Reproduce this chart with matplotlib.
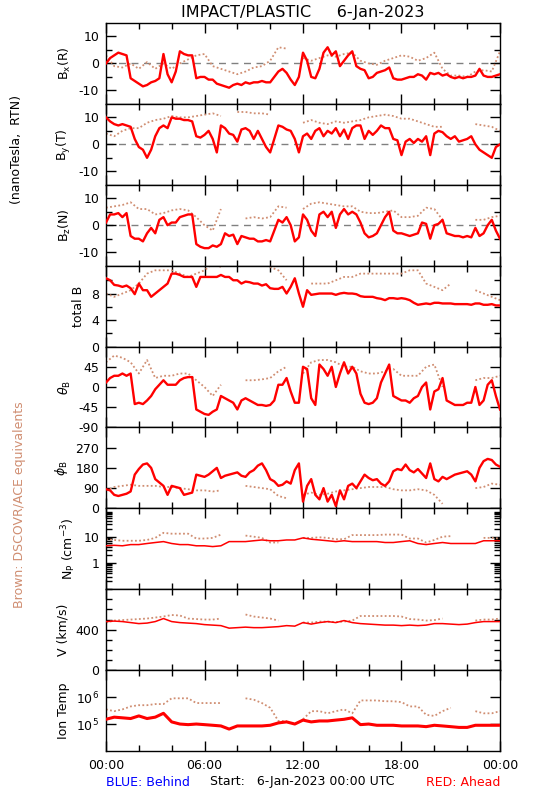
import numpy as np
import matplotlib
matplotlib.use("Agg")
import matplotlib.pyplot as plt
from matplotlib.ticker import MultipleLocator, FixedLocator, NullFormatter, NullLocator, LogLocator

nan = np.nan

# red (STEREO Ahead) every 15 min, brown (DSCOVR/ACE) every 30 min
t_red = np.arange(97) * 0.25
t_brn = np.arange(49) * 0.5
t_red30 = np.arange(49) * 0.5

bx_red = [0, 2, 3, 4, 3.5, 3, -5.5, -6.5,
          -7.5, -8.5, -8, -7, -6.5, -5.5, 3.5, -4,
          -7, -3, 4.5, 3.5, 3, 3, -5.5, -5,
          -5, -6, -6, -7.5, -8, -8.5, -9, -8,
          -7.5, -8, -7, -7.5, -7, -7, -6.5, -7,
          -7, -5, -3, -2, -3.5, -6, -8, -5,
          4, 1, -5, -5.5, -2, 4, 6, 3,
          4.5, -1, 1, 3, 4.5, -1, -2, -2.5,
          -5.5, -5, -3.5, -3, -2.5, -1.5, -5.5, -6,
          -6, -5.5, -5, -5, -4, -4.5, -6, -3.5,
          -4, -3.5, -4.5, -4, -5, -5.5, -5, -5.5,
          -5, -5, -4.5, -2, -4.5, -5, -5, -4.5,
          -4]
bx_brn = [3, -1, -1.5, 0, -2, 0.5, -2, 0, -2, 0, 1.5, 3, 3.5, -1, -2, -3,
          -4, -3, -1.5, -1, 1, 6, 5.5, nan, 2, 1, 2, 3, 2.5, 3.5, 4, 1,
          0, -0.5, 1, 2, 3, 2.5, 1, 2, 4, -2, -4.5, -4.5, -5, -3, -2.5, -3,
          4.5]

by_red = [10, 8.5, 7.5, 7, 7.5, 7, 6.5, 2,
          -1, -2, -5, -2, 3, 6, 7, 6,
          10, 9.5, 9.5, 9, 9, 8.5, 3, 2.5,
          3.5, 5, 2, -3, 7, 6, 4, 3.5,
          1, 5.5, 6, 5, 2, 5, 2, -1,
          -3, 2, 7, 6.5, 5.5, 5, 2, -3,
          3, 4, 2, 5, 6, 3, 5, 4,
          6, 3, 5.5, 2, 6, 7, 7, 2,
          5, 3.5, 5, 7, 6, 6, 2, 1.5,
          -4, 1, 2, 0.5, 2, 1, 3, -4,
          4, 5, 4.5, 3, 2, 3, 1, 1.5,
          2, 3, 0, -2, -3, -4, -5, -1,
          0]
by_brn = [4, 3, 5, 6, 6, 8, 9, 9.5, 10.5, 10, 10, 10.5, 11, 11.5, 10.5, nan,
          12, 12, 11.5, 11.5, 11, nan, nan, nan, 8, 9, 8, 7.5, 8.5, 8, 8.5, 9,
          10, 10.5, 11, 10.5, 9.5, 9.5, 8.5, 7.5, 6.5, 6.5, nan, nan, nan, 7.5, 7, 6.5,
          5]

bz_red = [1, 4, 4, 4.5, 3, 4.5, -4, -5,
          -5, -6, -3, -1, -3, 2, 3, 0,
          1, 1, 3, 3.5, 4, 4, -7, -8,
          -8.5, -8.5, -7.5, -8, -7, -3, -4, -3.5,
          -7, -4, -4.5, -5, -5, -6, -6, -5.5,
          -6, -2, 2, 1, 3, 0, -6, -4.5,
          4, 2, -2, -4, 4, 5, 3, 5,
          -1, 4, 6, 4, 5, 4, 1, -3,
          -4.5, -4, -3, 0, 3, 5, -2, -3,
          -3, -3.5, -4, -3.5, -3, 1, 0.5, -5,
          0, 0.5, 2, -3, -3.5, -4, -4, -4.5,
          -4, -4.5, -1, -4, -3, 0, 2, -2,
          -5]
bz_brn = [6.5, 7, 7.5, 8.5, 6, 6, 4, 4.5, 5.5, 6, 5.5, 3, 0, -2, 6, nan,
          nan, 2.5, 3, 2.5, 3, 7, 6.5, nan, 6, 8, 8.5, 8, 7.5, 7, 7, 5,
          4.5, 4.5, 5, 5.5, 3, 3, 3.5, 6.5, 6, 2, nan, nan, nan, 2, 2, 3,
          3.5]

bt_red = [10.3, 10, 9.3, 9.2, 9, 9.2, 8.8, 7.9,
          9.5, 8.5, 8.5, 7.5, 8, 8.5, 9, 9.5,
          11, 11, 10.8, 10.5, 10.5, 10.5, 9, 10.5,
          10.5, 10.5, 10.5, 10.5, 10.8, 10.5, 10.5, 10,
          10, 9.5, 9.8, 9.7, 9.5, 9.5, 9.2, 9.4,
          8.8, 8.7, 8.7, 9, 8, 9, 10.3, 8,
          6, 8.5, 7.8, 7.9, 8, 8, 8, 8,
          7.8, 8, 8.1, 8, 8, 7.9, 7.6, 7.5,
          7.5, 7.5, 7.3, 7.2, 7, 7.3, 7.3, 7.2,
          7.3, 7.2, 7, 6.6, 6.3, 6.4, 6.5, 6.4,
          6.6, 6.6, 6.5, 6.5, 6.5, 6.4, 6.4, 6.4,
          6.4, 6.3, 6.5, 6.5, 6.3, 6.3, 6.4, 6.2,
          6.2]
bt_brn = [8, 7.5, 8, 8.5, 9.5, 11, 11.5, 11.5, 11.5, 11, 10.5, 11, 11.5, 12.5, 12, nan,
          nan, 12.5, 12.5, 12.5, 12, 11.5, 10, nan, nan, 9.5, 9.5, 9.5, 10, 10.5, 10.5, 11,
          11, 11, 11, 11, 11, 11.5, 11.5, 9.5, 9, 8.5, 9.5, nan, nan, 8.5, 8, 7.5,
          7]

th_red = [10, 20, 25, 25, 30, 25, 30, -38,
          -35, -38, -30, -20, -5, 5, 15, 5,
          5, 5, 15, 20, 22, 22, -50, -55,
          -60, -62, -55, -50, -20, -25, -30, -35,
          -50, -30, -25, -30, -35, -40, -40, -42,
          -40, -30, 5, 5, 20, -10, -35, -35,
          45, 40, -25, -40, 50, 40, 25, 45,
          0, 30, 55, 30, 45, 30, -15, -35,
          -38, -35, -25, 10, 30, 50, -20, -25,
          -30, -30, -35, -25, -20, 0, 10, -50,
          -10, -5, 20, -30, -35, -40, -40, -40,
          -35, -35, 0, -40, -30, 5, 15, -20,
          -50]
th_brn = [55, 70, 65, 55, 30, 60, 20, 25, 25, 30, 30, 15, 0, -20, 5, nan,
          nan, 15, 15, 17, 20, 35, 45, nan, 30, 55, 60, 60, 55, 45, 45, 35,
          30, 30, 35, 40, 25, 25, 25, 45, 50, 0, nan, nan, nan, 15, 20, 20,
          25]

ph_red = [85, 80, 60, 55, 60, 65, 75, 150,
          175, 195, 200, 180, 130, 115, 100, 60,
          100, 95, 90, 60, 65, 70, 150, 145,
          140, 150, 165, 180, 135, 145, 150, 155,
          160, 145, 140, 160, 170, 190, 200, 170,
          130, 120, 100, 105, 120, 110, 170, 200,
          30, 100, 130, 60, 40, 90, 30, 60,
          10, 80, 40, 100, 110, 90, 120, 150,
          135, 125, 130, 110, 100, 120, 165, 175,
          170, 195, 170, 160, 175, 155, 135, 200,
          130, 120, 140, 130, 140, 150, 155, 160,
          165, 150, 120, 180, 210, 220, 215, 195,
          185]
ph_brn = [80, 95, 100, 105, 100, 100, 100, 95, 95, 90, 85, 80, 80, 75, 80, nan,
          nan, 100, 95, 90, 85, 55, 45, nan, 60, 70, 60, 65, 75, 80, 85, 90,
          95, 95, 95, 85, 80, 80, 85, 80, 60, 20, nan, nan, nan, 90, 95, 110,
          105]

np_red = [4.5, 4.7, 4.5, 5, 5, 5.5, 6, 6.5, 5.5, 5, 5, 4.5, 4.5, 4.2, 4.5, 6.5,
          6.5, 6.5, 7, 7.5, 7, 7, 7.5, 7.5, 9, 8, 7.5, 7, 6.5, 7, 6.5, 6.5,
          6.5, 6.5, 6, 6, 6.5, 7, 5.5, 5, 5.5, 6, 5.5, 5.5, 5.5, 5.5, 7, 7,
          7]
np_brn = [8, 7.5, 7, 7, 7, 7.5, 9, 14, 13, 13, 13, 8.5, 8.5, 9, 12, nan,
          nan, 11, 10, 9, 6, 6, nan, nan, 9, 9, 9.5, 9, 8, 8, 11.5, 11.5,
          11.5, 11.5, 12, 12, 12, 8.5, 8.5, 6, 7.5, 10, 10.5, nan, nan, nan, 9, 9,
          8.5]

v_red = [480, 485, 480, 470, 460, 465, 480, 510, 480, 470, 465, 460, 450, 445, 440, 415,
         420, 425, 420, 420, 425, 430, 440, 435, 470, 455, 470, 480, 470, 490, 470, 460,
         455, 450, 445, 445, 440, 445, 440, 445, 460, 460, 455, 450, 455, 470, 480, 480,
         480]
v_brn = [470, 490, 495, 500, 505, 510, 520, 530, 545, 540, 510, 505, 500, 500, 510, nan,
         nan, 550, 530, 520, 510, 490, nan, nan, 470, 470, 480, 480, 475, 480, 490, 535,
         535, 535, 535, 535, 530, 505, 500, 490, 495, 510, nan, nan, nan, 490, 500, 500,
         510]

tp_red = [1.5e5, 1.8e5, 1.7e5, 1.6e5, 2e5, 1.6e5, 1.8e5, 2.5e5, 1.2e5, 1.0e5, 0.95e5, 1.0e5,
          0.95e5, 0.9e5, 0.85e5, 0.65e5, 0.85e5, 0.85e5, 0.85e5, 0.85e5, 0.9e5, 1.1e5, 1.2e5, 1.0e5,
          1.4e5, 1.2e5, 1.3e5, 1.3e5, 1.4e5, 1.5e5, 1.7e5, 0.95e5, 1.0e5, 0.9e5, 0.9e5, 0.9e5,
          0.85e5, 0.85e5, 0.85e5, 0.8e5, 0.9e5, 0.85e5, 0.8e5, 0.75e5, 0.75e5, 0.9e5, 0.9e5, 0.9e5,
          0.9e5]
tp_brn = [3.5e5, 3e5, 3.5e5, 4.5e5, 5e5, 5e5, 5.5e5, 5.5e5, 9e5, 9e5, 9e5, 6e5,
          6e5, 6e5, 6e5, nan, nan, 9e5, 8e5, 6e5, 4e5, 1.3e5, 1.3e5, nan,
          1.5e5, 3e5, 3e5, 2.5e5, 3e5, 3.5e5, 2.5e5, 7.5e5, 7.5e5, 7.5e5, 7e5, 7e5,
          6.5e5, 4.5e5, 4.5e5, 2.2e5, 2e5, 3e5, 4e5, nan, nan, 3e5, 2.5e5, 2.5e5,
          3e5]

BROWN = "#D08E72"
plt.rcParams["font.family"] = "DejaVu Sans"
plt.rcParams["font.size"] = 9
plt.rcParams["axes.unicode_minus"] = False

fig, axes = plt.subplots(9, 1, figsize=(5.5, 8), dpi=100, sharex=True,
                         gridspec_kw=dict(hspace=0))
fig.subplots_adjust(left=106/550, right=500/550, top=1-23/800, bottom=1-751/800)

panels = [
    (bx_red, t_red, bx_brn, 'B$_{\\rm x}$(R)'),
    (by_red, t_red, by_brn, 'B$_{\\rm y}$(T)'),
    (bz_red, t_red, bz_brn, 'B$_{\\rm z}$(N)'),
    (bt_red, t_red, bt_brn, 'total B'),
    (th_red, t_red, th_brn, r'$\theta_{\rm B}$'),
    (ph_red, t_red, ph_brn, r'$\phi_{\rm B}$'),
    (np_red, t_red30, np_brn, 'N$_{\\rm P}$ (cm$^{-3}$)'),
    (v_red, t_red30, v_brn, 'V (km/s)'),
    (tp_red, t_red30, tp_brn, 'Ion Temp'),
]
red_lw = [1.7, 1.7, 1.7, 1.7, 1.7, 1.7, 1.1, 1.1, 2.2]

for i, (ax, (red, tr, brn, lab)) in enumerate(zip(axes, panels)):
    ax.plot(t_brn, brn, color=BROWN, ls=(0, (1, 1.3)), lw=1.3, zorder=2)
    ax.plot(tr, red, color="red", lw=red_lw[i], zorder=3)
    ax.set_ylabel(lab)
    ax.tick_params(which="both", direction="in", top=True, right=True, width=1, pad=5)
    ax.tick_params(which="major", length=7)
    ax.tick_params(which="minor", length=4)
    for s in ax.spines.values():
        s.set_linewidth(1)

for ax in axes[:3]:
    ax.axhline(0, color="gray", ls=(0, (5, 4)), lw=1, zorder=1)
    ax.set_ylim(-15, 15)
    ax.set_yticks([-10, 0, 10])
    ax.yaxis.set_minor_locator(FixedLocator([-5, 5]))

axes[3].set_ylim(0, 12.2)
axes[3].set_yticks([0, 4, 8])
axes[3].yaxis.set_minor_locator(FixedLocator([2, 6, 10]))

axes[4].set_ylim(-90, 90)
axes[4].set_yticks([-90, -45, 0, 45])

axes[5].set_ylim(0, 360)
axes[5].set_yticks([0, 90, 180, 270])

axes[6].set_yscale("log")
axes[6].set_ylim(0.1, 120)
axes[6].set_yticks([1, 10], labels=["1", "10"])
axes[6].yaxis.set_minor_locator(LogLocator(subs=np.arange(2, 10)))
axes[6].yaxis.set_minor_formatter(NullFormatter())

axes[7].set_ylim(0, 800)
axes[7].set_yticks([0, 400])
axes[7].yaxis.set_minor_locator(MultipleLocator(100))

axes[8].set_yscale("log")
axes[8].set_ylim(1e4, 1e7)
axes[8].set_yticks([1e5, 1e6], labels=["10$^5$", "10$^6$"])
axes[8].yaxis.set_minor_locator(NullLocator())

axes[-1].set_xlim(0, 24)
axes[-1].set_xticks([0, 6, 12, 18, 24], labels=["00:00", "06:00", "12:00", "18:00", "00:00"])
axes[-1].xaxis.set_minor_locator(MultipleLocator(2))
axes[-1].tick_params(axis="x", pad=6)

fig.text(303/550, 1-12/800, "IMPACT/PLASTIC     6-Jan-2023", ha="center", va="center", fontsize=11.5)
fig.text(17/550, 1-150/800, "(nanoTesla,  RTN)", rotation=90, ha="center", va="center")
fig.text(20/550, 1-505/800, "Brown: DSCOVR/ACE equivalents", rotation=90, ha="center", va="center",
         color=BROWN)
fig.text(106/550, 1-782/800, "BLUE: Behind", color="blue", ha="left", va="center")
fig.text(302/550, 1-782/800, "Start:   6-Jan-2023 00:00 UTC", ha="center", va="center")
fig.text(500/550, 1-782/800, "RED: Ahead", color="red", ha="right", va="center")

fig.savefig("out.png", dpi=100)
